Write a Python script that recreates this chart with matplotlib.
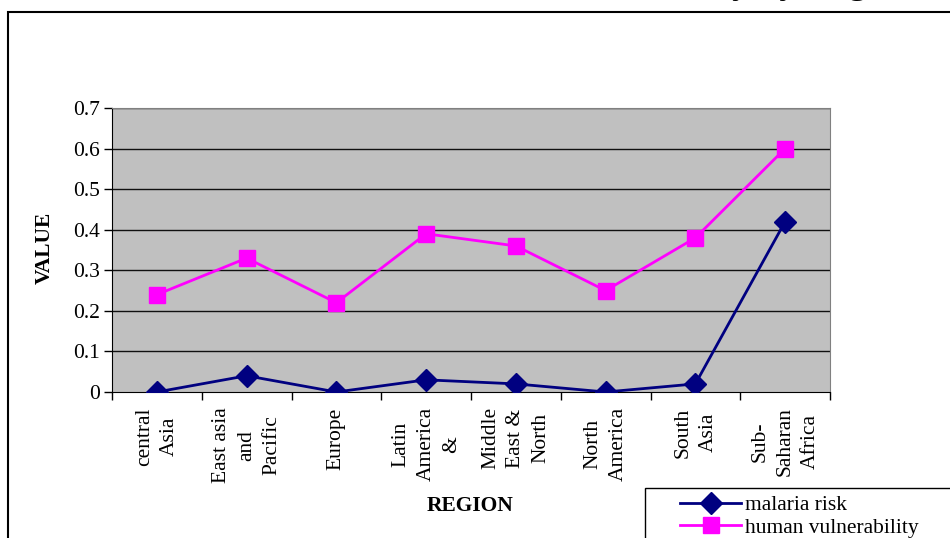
import matplotlib
matplotlib.use('Agg')
from matplotlib import pyplot as plt
from matplotlib.patches import Rectangle
import numpy as np

plt.rcParams['font.family'] = 'Liberation Serif'

regions = ['central\nAsia', 'East asia\nand\nPacific', 'Europe',
           'Latin\nAmerica\n&', 'Middle\nEast &\nNorth', 'North\nAmerica',
           'South\nAsia', 'Sub-\nSaharan\nAfrica']
malaria_risk = [0.0, 0.04, 0.0, 0.03, 0.02, 0.0, 0.02, 0.42]
human_vulnerability = [0.24, 0.33, 0.22, 0.39, 0.36, 0.25, 0.38, 0.60]
yticks = [0, 0.1, 0.2, 0.3, 0.4, 0.5, 0.6, 0.7]

fs = 15.5
fig = plt.figure(figsize=(9.5, 5.38), dpi=100, facecolor='w')

# outer chart frame, runs off the right and bottom edges
fig.patches.append(Rectangle((8/950, -0.1), 1.0, 1.1 - 12/538,
                             transform=fig.transFigure, fill=False,
                             edgecolor='k', linewidth=1.5))

ax = fig.add_axes([112/950, 1 - 392/538, 718/950, 284/538])
ax.set_facecolor('#C0C0C0')
x = np.arange(len(regions))

ax.set_ylim(0, 0.7)
ax.set_xlim(-0.5, len(regions) - 0.5)
ax.set_yticks(yticks)
ax.set_yticklabels(['0' if v == 0 else '%.1f' % v for v in yticks], fontsize=fs)
for v in yticks[1:]:
    ax.axhline(v, color='#101010', linewidth=1, zorder=1)

ax.plot(x, malaria_risk, '-D', color='#000080', linewidth=2,
        markersize=11, label='malaria risk', zorder=3)
ax.plot(x, human_vulnerability, '-s', color='#FF00FF', linewidth=2,
        markersize=11.5, label='human vulnerability', zorder=3)

ax.set_xticks(x)
ax.set_xticklabels(regions, rotation=90, fontsize=fs, va='top', ha='center',
                   multialignment='center', linespacing=1.45)
ax.tick_params(axis='x', which='major', length=0, pad=11)
ax.set_xticks(np.arange(-0.5, len(regions)), minor=True)
ax.tick_params(axis='x', which='minor', length=6, direction='out', width=1)
ax.tick_params(axis='y', length=6, direction='out', width=1, pad=3)

for side in ['top', 'right']:
    ax.spines[side].set_color('#808080')
for side in ['left', 'bottom']:
    ax.spines[side].set_color('k')

fig.text(45/950, 1 - 248/538, 'VALUE', rotation=90, fontsize=fs,
         fontweight='bold', ha='center', va='center')
fig.text(470/950, 1 - 506/538, 'REGION', fontsize=fs,
         fontweight='bold', ha='center', va='center')

# title sits mostly above the top edge
fig.text(915/950, 1 + 7/538, 'Malaria Risk and Human Vulnerability by Region',
         fontsize=26, fontweight='bold', ha='right', va='baseline')

# legend box, cut by the bottom and right edges
fig.patches.append(Rectangle((645/950, -0.1), 1.0, 0.1 + 1 - 488/538,
                             transform=fig.transFigure, fill=False,
                             edgecolor='k', linewidth=1))
fig.legend(loc='upper left', bbox_to_anchor=(680/950, 1 - 495/538),
           fontsize=fs, frameon=False, borderpad=0, handlelength=2.85,
           handletextpad=0.15, labelspacing=0.12, borderaxespad=0)

plt.savefig('out.png', dpi=100)
